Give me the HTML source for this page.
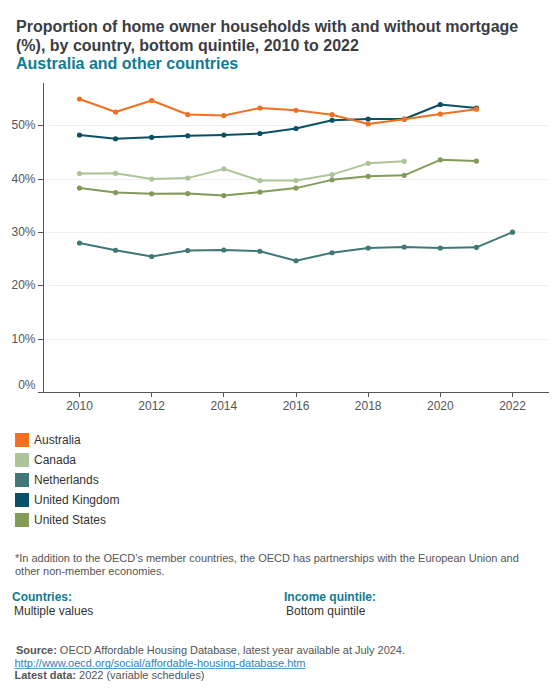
<!DOCTYPE html>
<html><head><meta charset="utf-8">
<style>
html,body{margin:0;padding:0;background:#fff;}
body{width:560px;height:700px;position:relative;overflow:hidden;font-family:"Liberation Sans",sans-serif;}
.t{position:absolute;white-space:nowrap;line-height:1.15;}
.title{left:16px;font-size:16px;font-weight:bold;color:#3a3d42;}
.sub{left:16px;font-size:16px;font-weight:bold;color:#0e7c92;}
.leg{position:absolute;left:15px;width:14px;height:14px;}
.legt{left:34px;font-size:12px;color:#333;}
.note{left:15px;font-size:11px;color:#555;letter-spacing:-0.011px;}
.lab{font-size:12px;font-weight:bold;color:#0e7c92;}
.val{font-size:12px;color:#333;}
.src{left:16px;font-size:11px;color:#555;letter-spacing:-0.02px;}
.src b{color:#555;}
a{color:#2f82b0;text-decoration-skip-ink:none;text-decoration-color:#5aa0c0;}
svg{position:absolute;left:0;top:0;}
</style></head><body>
<div class="t title" style="top:18px;">Proportion of home owner households with and without mortgage</div>
<div class="t title" style="top:37px;">(%), by country, bottom quintile, 2010 to 2022</div>
<div class="t sub" style="top:55px;">Australia and other countries</div>
<svg width="560" height="420" viewBox="0 0 560 420">
<rect x="45" y="339" width="503" height="1" fill="#efefef"/><rect x="38" y="339" width="5" height="1" fill="#555"/><rect x="45" y="285" width="503" height="1" fill="#efefef"/><rect x="38" y="285" width="5" height="1" fill="#555"/><rect x="45" y="232" width="503" height="1" fill="#efefef"/><rect x="38" y="232" width="5" height="1" fill="#555"/><rect x="45" y="179" width="503" height="1" fill="#efefef"/><rect x="38" y="179" width="5" height="1" fill="#555"/><rect x="45" y="125" width="503" height="1" fill="#efefef"/><rect x="38" y="125" width="5" height="1" fill="#555"/>
<g font-family="Liberation Sans" font-size="12" fill="#555"><text x="35.5" y="388.80" text-anchor="end">0%</text><text x="35.5" y="343.40" text-anchor="end">10%</text><text x="35.5" y="289.40" text-anchor="end">20%</text><text x="35.5" y="236.40" text-anchor="end">30%</text><text x="35.5" y="183.40" text-anchor="end">40%</text><text x="35.5" y="129.40" text-anchor="end">50%</text><rect x="79" y="393" width="1" height="4" fill="#555"/><text x="79.50" y="410" text-anchor="middle">2010</text><rect x="151" y="393" width="1" height="4" fill="#555"/><text x="151.67" y="410" text-anchor="middle">2012</text><rect x="223" y="393" width="1" height="4" fill="#555"/><text x="223.83" y="410" text-anchor="middle">2014</text><rect x="296" y="393" width="1" height="4" fill="#555"/><text x="296.00" y="410" text-anchor="middle">2016</text><rect x="368" y="393" width="1" height="4" fill="#555"/><text x="368.17" y="410" text-anchor="middle">2018</text><rect x="440" y="393" width="1" height="4" fill="#555"/><text x="440.33" y="410" text-anchor="middle">2020</text><rect x="512" y="393" width="1" height="4" fill="#555"/><text x="512.50" y="410" text-anchor="middle">2022</text></g>
<rect x="43" y="83" width="1" height="310" fill="#555"/>
<rect x="38" y="392" width="511" height="1" fill="#555"/>
<polyline points="79.50,173.60 115.58,173.35 151.67,179.10 187.75,178.10 223.83,168.85 259.92,180.60 296.00,180.60 332.08,174.60 368.17,163.35 404.25,161.35" fill="none" stroke="#adc499" stroke-width="2" stroke-linejoin="round"/><circle cx="79.50" cy="173.60" r="2.6" fill="#adc499"/><circle cx="115.58" cy="173.35" r="2.6" fill="#adc499"/><circle cx="151.67" cy="179.10" r="2.6" fill="#adc499"/><circle cx="187.75" cy="178.10" r="2.6" fill="#adc499"/><circle cx="223.83" cy="168.85" r="2.6" fill="#adc499"/><circle cx="259.92" cy="180.60" r="2.6" fill="#adc499"/><circle cx="296.00" cy="180.60" r="2.6" fill="#adc499"/><circle cx="332.08" cy="174.60" r="2.6" fill="#adc499"/><circle cx="368.17" cy="163.35" r="2.6" fill="#adc499"/><circle cx="404.25" cy="161.35" r="2.6" fill="#adc499"/><polyline points="79.50,243.00 115.58,250.25 151.67,256.50 187.75,250.50 223.83,250.00 259.92,251.25 296.00,260.75 332.08,252.75 368.17,248.00 404.25,247.00 440.33,248.00 476.42,247.30 512.50,232.20" fill="none" stroke="#407777" stroke-width="2" stroke-linejoin="round"/><circle cx="79.50" cy="243.00" r="2.6" fill="#407777"/><circle cx="115.58" cy="250.25" r="2.6" fill="#407777"/><circle cx="151.67" cy="256.50" r="2.6" fill="#407777"/><circle cx="187.75" cy="250.50" r="2.6" fill="#407777"/><circle cx="223.83" cy="250.00" r="2.6" fill="#407777"/><circle cx="259.92" cy="251.25" r="2.6" fill="#407777"/><circle cx="296.00" cy="260.75" r="2.6" fill="#407777"/><circle cx="332.08" cy="252.75" r="2.6" fill="#407777"/><circle cx="368.17" cy="248.00" r="2.6" fill="#407777"/><circle cx="404.25" cy="247.00" r="2.6" fill="#407777"/><circle cx="440.33" cy="248.00" r="2.6" fill="#407777"/><circle cx="476.42" cy="247.30" r="2.6" fill="#407777"/><circle cx="512.50" cy="232.20" r="2.6" fill="#407777"/><polyline points="79.50,188.10 115.58,192.60 151.67,193.85 187.75,193.60 223.83,195.60 259.92,192.10 296.00,188.10 332.08,179.85 368.17,176.35 404.25,175.35 440.33,159.85 476.42,161.10" fill="none" stroke="#839b59" stroke-width="2" stroke-linejoin="round"/><circle cx="79.50" cy="188.10" r="2.6" fill="#839b59"/><circle cx="115.58" cy="192.60" r="2.6" fill="#839b59"/><circle cx="151.67" cy="193.85" r="2.6" fill="#839b59"/><circle cx="187.75" cy="193.60" r="2.6" fill="#839b59"/><circle cx="223.83" cy="195.60" r="2.6" fill="#839b59"/><circle cx="259.92" cy="192.10" r="2.6" fill="#839b59"/><circle cx="296.00" cy="188.10" r="2.6" fill="#839b59"/><circle cx="332.08" cy="179.85" r="2.6" fill="#839b59"/><circle cx="368.17" cy="176.35" r="2.6" fill="#839b59"/><circle cx="404.25" cy="175.35" r="2.6" fill="#839b59"/><circle cx="440.33" cy="159.85" r="2.6" fill="#839b59"/><circle cx="476.42" cy="161.10" r="2.6" fill="#839b59"/><polyline points="79.50,135.00 115.58,138.75 151.67,137.30 187.75,135.75 223.83,135.00 259.92,133.50 296.00,128.50 332.08,120.25 368.17,119.00 404.25,119.00 440.33,104.50 476.42,108.05" fill="none" stroke="#0a5066" stroke-width="2" stroke-linejoin="round"/><circle cx="79.50" cy="135.00" r="2.6" fill="#0a5066"/><circle cx="115.58" cy="138.75" r="2.6" fill="#0a5066"/><circle cx="151.67" cy="137.30" r="2.6" fill="#0a5066"/><circle cx="187.75" cy="135.75" r="2.6" fill="#0a5066"/><circle cx="223.83" cy="135.00" r="2.6" fill="#0a5066"/><circle cx="259.92" cy="133.50" r="2.6" fill="#0a5066"/><circle cx="296.00" cy="128.50" r="2.6" fill="#0a5066"/><circle cx="332.08" cy="120.25" r="2.6" fill="#0a5066"/><circle cx="368.17" cy="119.00" r="2.6" fill="#0a5066"/><circle cx="404.25" cy="119.00" r="2.6" fill="#0a5066"/><circle cx="440.33" cy="104.50" r="2.6" fill="#0a5066"/><circle cx="476.42" cy="108.05" r="2.6" fill="#0a5066"/><polyline points="79.50,99.00 115.58,112.00 151.67,100.50 187.75,114.55 223.83,115.50 259.92,108.00 296.00,110.25 332.08,114.70 368.17,124.00 404.25,119.25 440.33,114.05 476.42,109.20" fill="none" stroke="#f37021" stroke-width="2" stroke-linejoin="round"/><circle cx="79.50" cy="99.00" r="2.6" fill="#f37021"/><circle cx="115.58" cy="112.00" r="2.6" fill="#f37021"/><circle cx="151.67" cy="100.50" r="2.6" fill="#f37021"/><circle cx="187.75" cy="114.55" r="2.6" fill="#f37021"/><circle cx="223.83" cy="115.50" r="2.6" fill="#f37021"/><circle cx="259.92" cy="108.00" r="2.6" fill="#f37021"/><circle cx="296.00" cy="110.25" r="2.6" fill="#f37021"/><circle cx="332.08" cy="114.70" r="2.6" fill="#f37021"/><circle cx="368.17" cy="124.00" r="2.6" fill="#f37021"/><circle cx="404.25" cy="119.25" r="2.6" fill="#f37021"/><circle cx="440.33" cy="114.05" r="2.6" fill="#f37021"/><circle cx="476.42" cy="109.20" r="2.6" fill="#f37021"/>
</svg>
<div class="leg" style="top:433px;background:#f37021"></div><div class="t legt" style="top:433.5px">Australia</div>
<div class="leg" style="top:453px;background:#adc499"></div><div class="t legt" style="top:453.5px">Canada</div>
<div class="leg" style="top:473px;background:#407777"></div><div class="t legt" style="top:473.5px">Netherlands</div>
<div class="leg" style="top:493px;background:#0a5066"></div><div class="t legt" style="top:493.5px">United Kingdom</div>
<div class="leg" style="top:513px;background:#839b59"></div><div class="t legt" style="top:513.5px">United States</div>

<div class="t note" style="top:552px;">*In addition to the OECD’s member countries, the OECD has partnerships with the European Union and</div>
<div class="t note" style="top:565px;">other non-member economies.</div>
<div class="t lab" style="left:12px;top:590.5px;">Countries:</div>
<div class="t val" style="left:14px;top:604.5px;">Multiple values</div>
<div class="t lab" style="left:284px;top:590.5px;">Income quintile:</div>
<div class="t val" style="left:286px;top:604.5px;">Bottom quintile</div>
<div class="t src" style="top:644px;"><b>Source:</b> OECD Affordable Housing Database, latest year available at July 2024.</div>
<div class="t src" style="top:657px;left:14.5px;"><a href="#">http://www.oecd.org/social/affordable-housing-database.htm</a></div>
<div class="t src" style="top:669px;left:14.5px;"><b>Latest data:</b> 2022 (variable schedules)</div>
</body></html>
